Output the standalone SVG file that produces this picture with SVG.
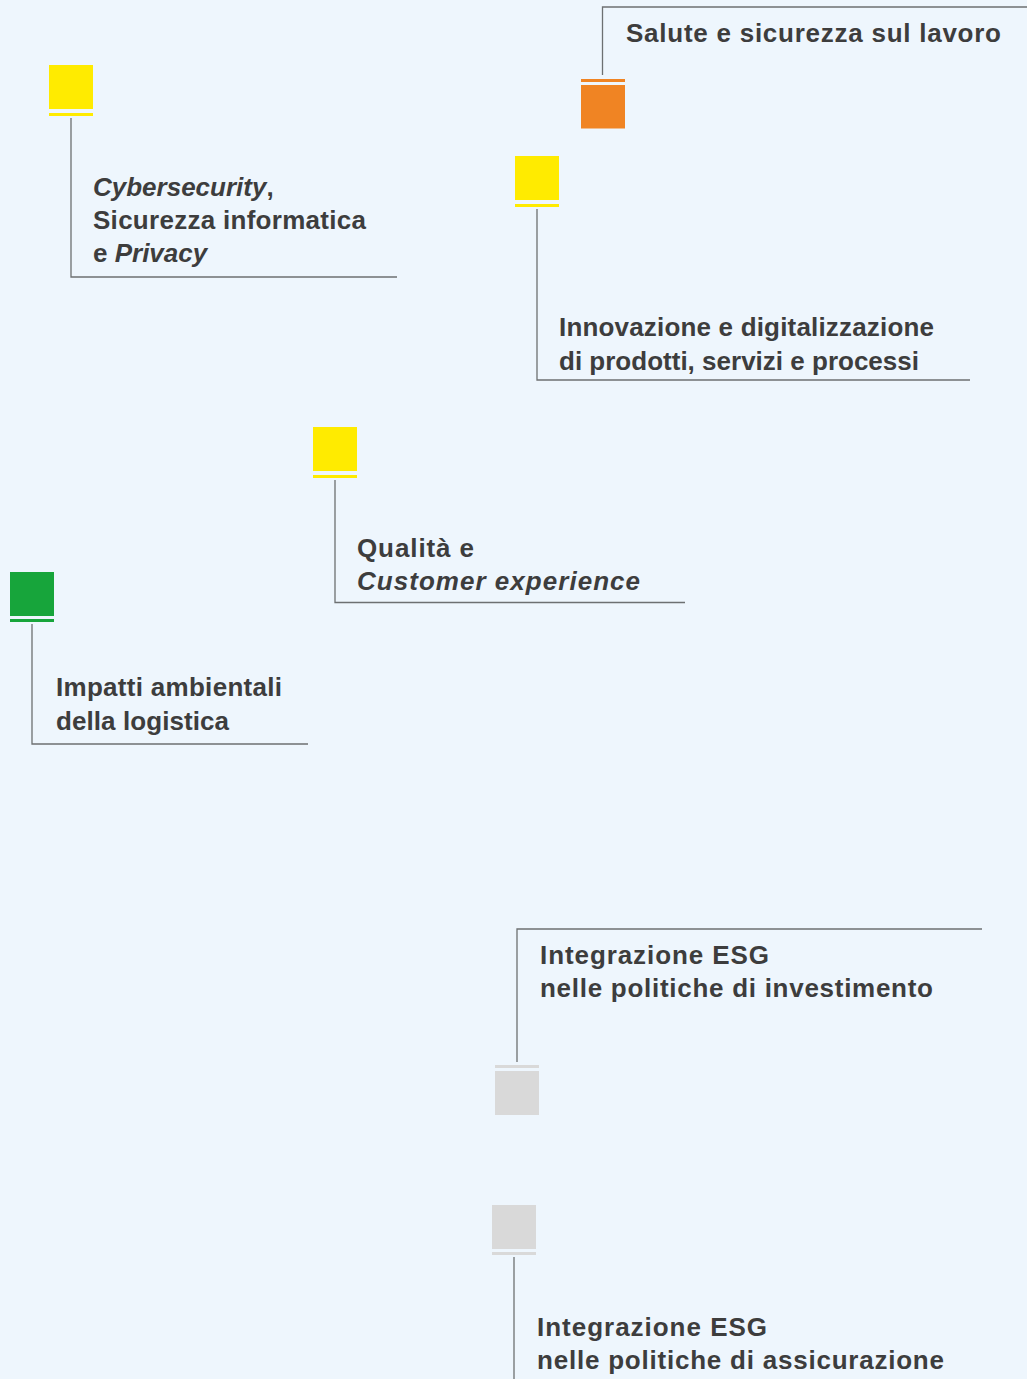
<svg xmlns="http://www.w3.org/2000/svg" width="1027" height="1379" viewBox="0 0 1027 1379">
<style>
.t{font-family:"Liberation Sans",Arial,Helvetica,sans-serif;font-weight:bold;font-size:26px;fill:#3d3d3d}
.i{font-style:italic}
.ln{fill:none;stroke:#6d7072;stroke-width:1.3}
.y{fill:#ffeb00}.o{fill:#f08423}.g{fill:#17a53b}.gr{fill:#d9d9d9}
</style>
<rect width="1027" height="1379" fill="#eef6fd"/>
<g id="connectors">
<polyline class="ln" points="602.5,75 602.5,7 1027,7"/>
<polyline class="ln" points="71,118 71,277 397,277"/>
<polyline class="ln" points="537,209 537,380 970,380"/>
<polyline class="ln" points="335,480 335,602.5 685,602.5"/>
<polyline class="ln" points="32,624 32,744 308,744"/>
<polyline class="ln" points="517,1062 517,929 982,929"/>
<polyline class="ln" points="514,1257 514,1379"/>
</g>
<g id="n-salute">
<rect class="o" x="581" y="79" width="44" height="3"/>
<rect class="o" x="581" y="85" width="44" height="43.5"/>
<text class="t" x="626" y="41.5" textLength="375" lengthAdjust="spacing">Salute e sicurezza sul lavoro</text>
</g>
<g id="n-cyber">
<rect class="y" x="49" y="65" width="44" height="44"/>
<rect class="y" x="49" y="113" width="44" height="3"/>
<text class="t" x="93" y="195.5"><tspan class="i">Cybersecurity</tspan>,</text>
<text class="t" x="93" y="228.5" textLength="273" lengthAdjust="spacing">Sicurezza informatica</text>
<text class="t" x="93" y="261.5">e <tspan class="i">Privacy</tspan></text>
</g>
<g id="n-innovazione">
<rect class="y" x="515" y="156" width="44" height="44"/>
<rect class="y" x="515" y="204" width="44" height="3"/>
<text class="t" x="559" y="335.5" textLength="375" lengthAdjust="spacing">Innovazione e digitalizzazione</text>
<text class="t" x="559" y="369.5" textLength="360" lengthAdjust="spacing">di prodotti, servizi e processi</text>
</g>
<g id="n-qualita">
<rect class="y" x="313" y="427" width="44" height="44"/>
<rect class="y" x="313" y="475" width="44" height="3"/>
<text class="t" x="357" y="557" textLength="117" lengthAdjust="spacing">Qualità e</text>
<text class="t i" x="357" y="590" textLength="283" lengthAdjust="spacing">Customer experience</text>
</g>
<g id="n-impatti">
<rect class="g" x="10" y="572" width="44" height="44"/>
<rect class="g" x="10" y="619" width="44" height="3"/>
<text class="t" x="56" y="696" textLength="226" lengthAdjust="spacing">Impatti ambientali</text>
<text class="t" x="56" y="730" textLength="173" lengthAdjust="spacing">della logistica</text>
</g>
<g id="n-esg-inv">
<rect class="gr" x="495" y="1065" width="44" height="3"/>
<rect class="gr" x="495" y="1071" width="44" height="44"/>
<text class="t" x="540" y="964" textLength="229" lengthAdjust="spacing">Integrazione ESG</text>
<text class="t" x="540" y="997" textLength="393" lengthAdjust="spacing">nelle politiche di investimento</text>
</g>
<g id="n-esg-ass">
<rect class="gr" x="492" y="1205" width="44" height="44"/>
<rect class="gr" x="492" y="1252" width="44" height="3"/>
<text class="t" x="537" y="1336" textLength="230" lengthAdjust="spacing">Integrazione ESG</text>
<text class="t" x="537" y="1369" textLength="407" lengthAdjust="spacing">nelle politiche di assicurazione</text>
</g>
</svg>
